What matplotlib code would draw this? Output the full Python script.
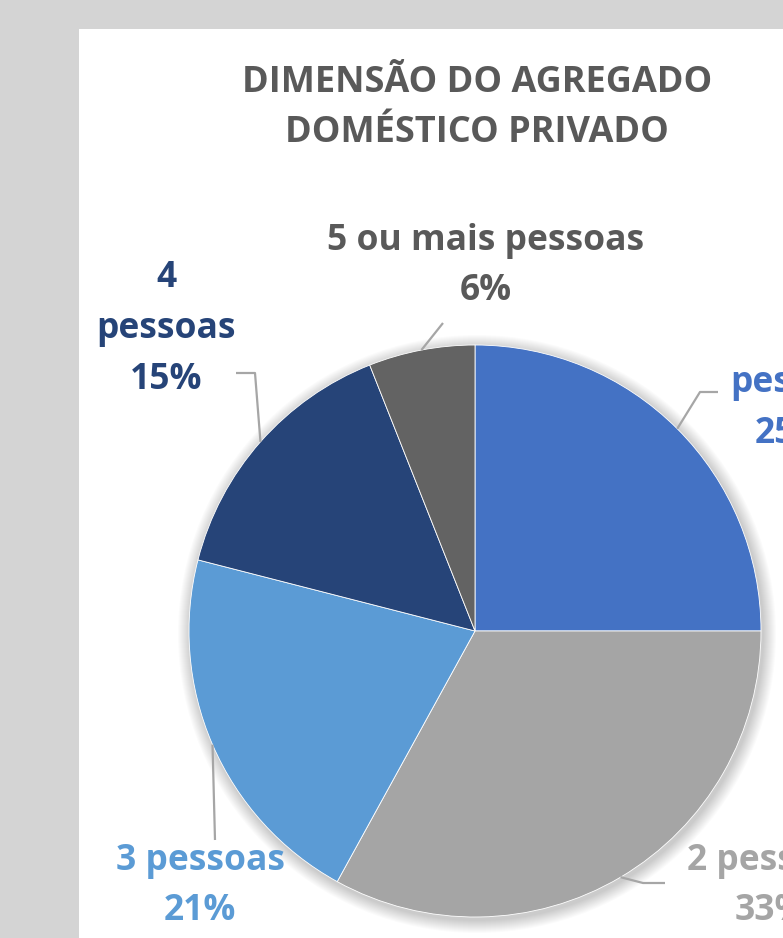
import matplotlib
matplotlib.use("Agg")
import matplotlib.pyplot as plt
import numpy as np
from matplotlib.patches import Rectangle, Circle

# data
categories = ["1\npessoa", "2 pessoas", "3 pessoas", "4\npessoas", "5 ou mais pessoas"]
shares = [25, 33, 21, 15, 6]
colors = ["#4472C4", "#A5A5A5", "#5B9BD5", "#264478", "#636363"]
label_colors = ["#4472C4", "#A5A5A5", "#5B9BD5", "#264478", "#595959"]
title = "DIMENSÃO DO AGREGADO\nDOMÉSTICO PRIVADO"

W, H = 783, 938
plt.rcParams['font.family'] = ['Open Sans', 'DejaVu Sans']

fig = plt.figure(figsize=(W / 100, H / 100), dpi=100, facecolor="#d4d4d4")
ax = fig.add_axes([0, 0, 1, 1])

# white chart panel
ax.add_patch(Rectangle((79, 29), W - 79, H - 29, facecolor="white", edgecolor="none", zorder=0))

cx, cy, r = 475, 631, 286

# soft shadow around pie
for k in range(1, 14):
    ax.add_patch(Circle((cx + 2, cy + 3), r + k, facecolor="black", alpha=0.016,
                        edgecolor="none", zorder=1))

# y axis is inverted: start at top (-90 in data), clockwise on screen = counterclock in data
wedges, _ = ax.pie(shares, colors=colors, startangle=-90, counterclock=True,
                   center=(cx, cy), radius=r, frame=True,
                   wedgeprops=dict(edgecolor="white", linewidth=0.6))
for w in wedges:
    w.set_zorder(2)
ax.set_xlim(0, W)
ax.set_ylim(H, 0)
ax.set_aspect("equal")
ax.axis("off")

ax.text(477, 108, title, ha="center", va="center", fontsize=26, fontweight="bold",
        color="#595959", linespacing=1.55)

# label positions and leader elbows (layout)
label_pos = [(791, 383), (771, 886), (200, 886), (166, 329), (486, 266)]
elbows = [
    [(700, 392), (718, 392)],
    [(643, 883), (665, 883)],
    [(215, 840)],
    [(255, 373), (236, 373)],
    [(443, 323)],
]

for i, w in enumerate(wedges):
    mid = np.deg2rad((w.theta1 + w.theta2) / 2)
    sx, sy = cx + r * np.cos(mid), cy + r * np.sin(mid)
    pts = [(sx, sy)] + elbows[i]
    ax.plot([p[0] for p in pts], [p[1] for p in pts], color="#A6A6A6", lw=1.6,
            zorder=3, solid_capstyle="butt")
    txt = f"{categories[i]}\n{shares[i]}%"
    ax.text(label_pos[i][0], label_pos[i][1], txt, ha="center", va="center",
            fontsize=25.5, fontweight="bold", color=label_colors[i], linespacing=1.55,
            zorder=4)

fig.savefig("out.png", dpi=100, facecolor=fig.get_facecolor())
